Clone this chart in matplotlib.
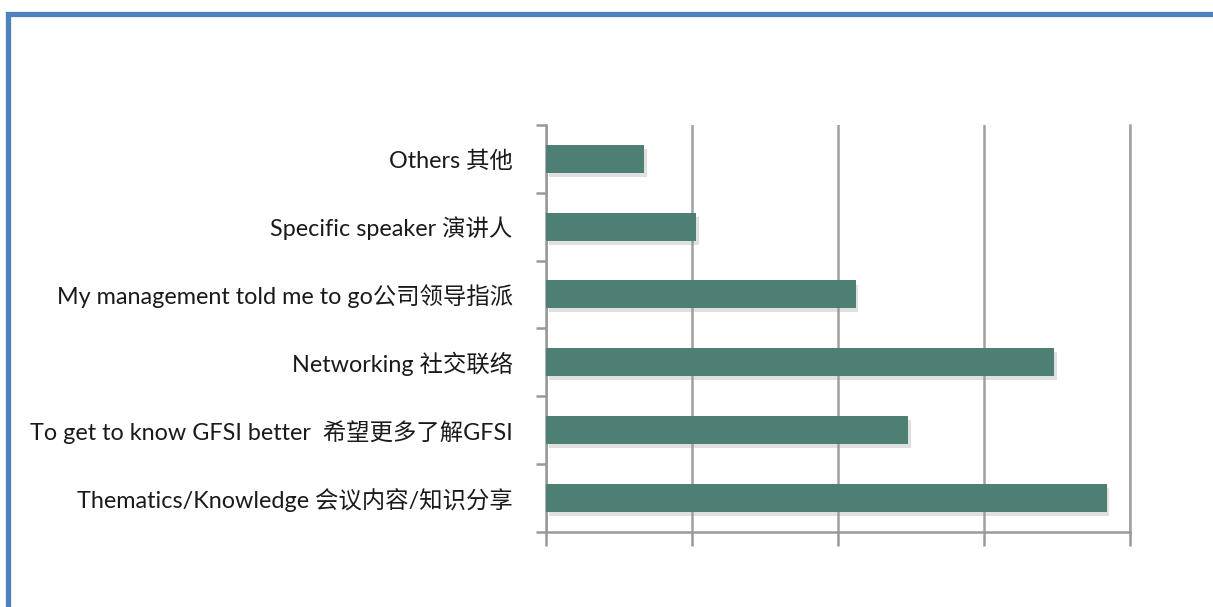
import matplotlib
matplotlib.use("Agg")
import matplotlib.pyplot as plt
import matplotlib.patches as mpatches
import matplotlib.patheffects as pe

plt.rcParams['font.family'] = ['Lato', 'Noto Sans CJK SC', 'DejaVu Sans']

categories = [
    "Thematics/Knowledge 会议内容/知识分享",
    "To get to know GFSI better  希望更多了解GFSI",
    "Networking 社交联络",
    "My management told me to go公司领导指派",
    "Specific speaker 演讲人",
    "Others 其他",
]
values = [38.4, 24.8, 34.8, 21.2, 10.3, 6.7]
x_ticks = [0, 10, 20, 30, 40]

W, H = 1213, 607
fig = plt.figure(figsize=(W / 100, H / 100), dpi=100)
fig.patch.set_facecolor('white')

# blue frame
frame = mpatches.Rectangle((7.5 / W, -0.1), 1.2, 1 - 13.5 / H + 0.1,
                           transform=fig.transFigure, fill=False,
                           edgecolor='#4f81bd', linewidth=3.8, zorder=10)
fig.patches.append(frame)

ax = fig.add_axes([546 / W, 1 - 531.5 / H, (1130 - 546) / W, (531.5 - 125) / H])
ypos = list(range(len(categories)))
bars = ax.barh(ypos, values, height=0.41, color='#4e7f74', zorder=3)
for b in bars:
    b.set_path_effects([pe.SimplePatchShadow(offset=(2, -3), shadow_rgbFace='#999999', alpha=0.3),
                        pe.Normal()])

ax.set_xlim(0, 40)
ax.set_ylim(-0.5, len(categories) - 0.5)
ax.set_xticks(x_ticks)
ax.set_xticklabels([])
ax.set_yticks(ypos)
ax.set_yticklabels(categories, fontsize=16.8, color='#1a1a1a')
ax.set_yticks([i - 0.5 for i in range(len(categories) + 1)], minor=True)
ax.tick_params(axis='y', which='major', length=0, pad=24)
ax.tick_params(axis='y', which='minor', length=7, width=1.8, color='#999999', direction='out')
ax.tick_params(axis='x', which='major', length=10, width=1.8, color='#999999', direction='out')
ax.grid(axis='x', color='#a0a0a0', linewidth=1.8, zorder=0)
for s in ['top', 'right']:
    ax.spines[s].set_visible(False)
for s in ['left', 'bottom']:
    ax.spines[s].set_color('#999999')
    ax.spines[s].set_linewidth(1.8)
ax.axvline(x_ticks[-1], color='#a0a0a0', linewidth=1.8, zorder=0, clip_on=False)
ax.set_facecolor('white')

fig.savefig('out.png', dpi=100, facecolor='white')
